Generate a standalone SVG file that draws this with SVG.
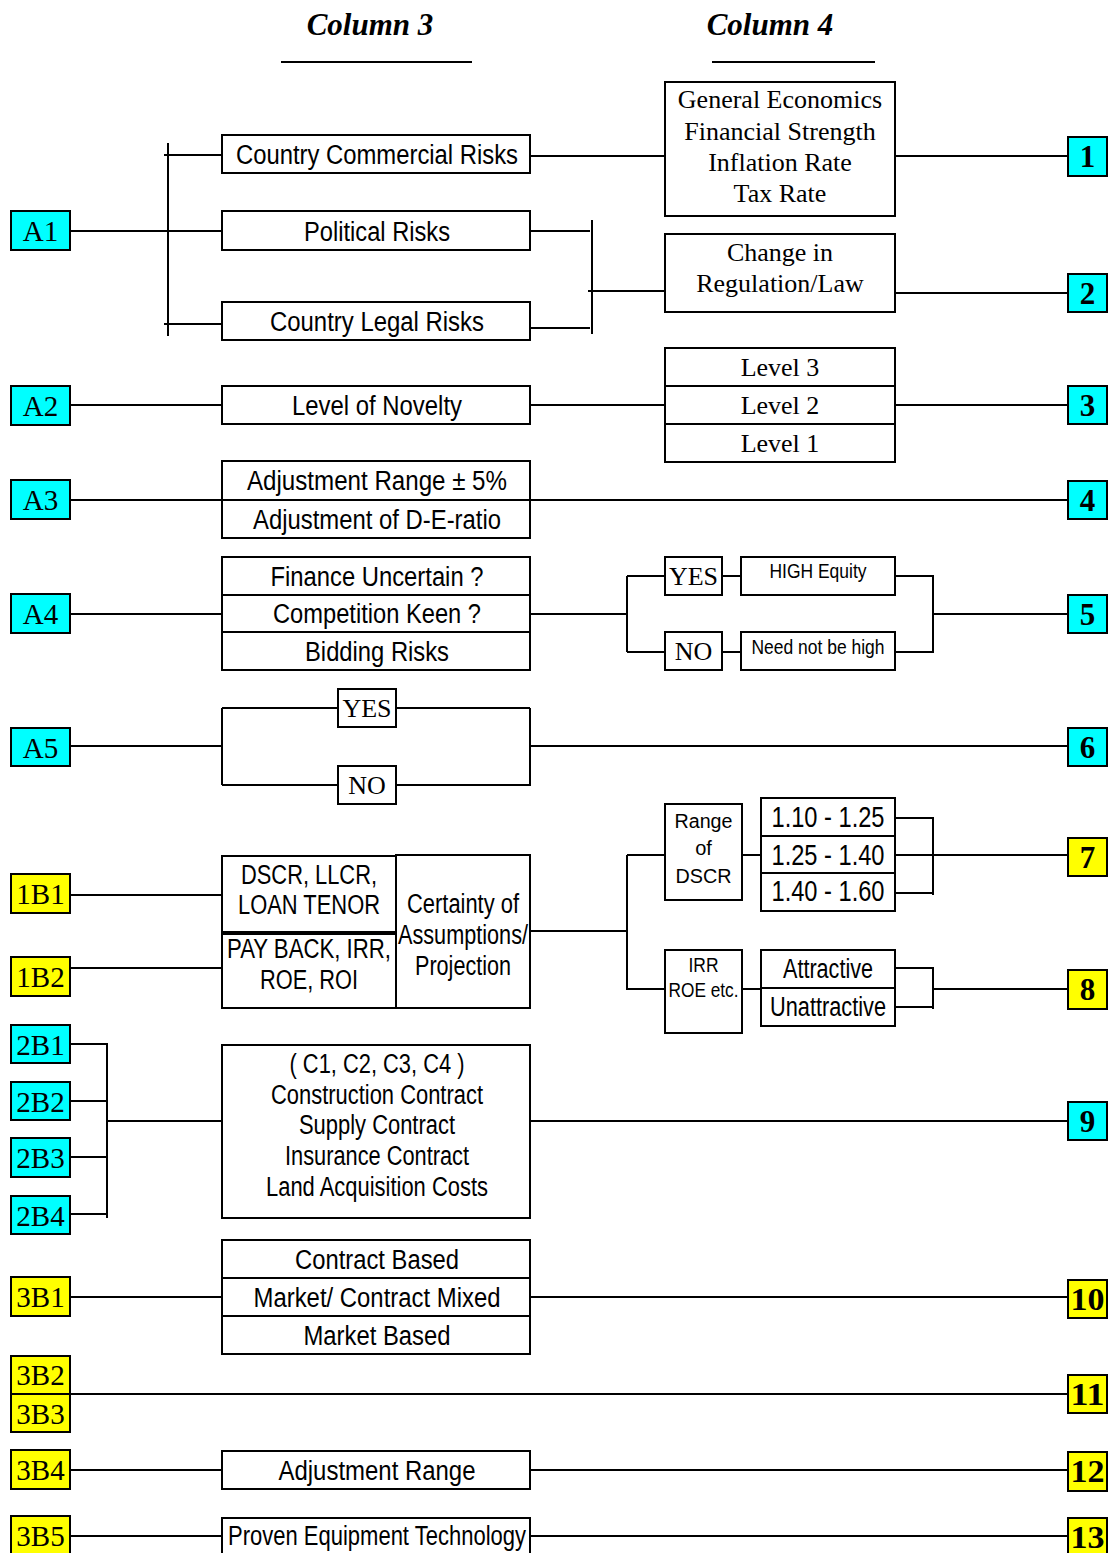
<svg xmlns="http://www.w3.org/2000/svg" width="1110" height="1553" viewBox="0 0 1110 1553">
<style>
.bx{fill:#fff;stroke:#000;stroke-width:2}
.cy{fill:#00ffff;stroke:#000;stroke-width:2}
.yl{fill:#ffff00;stroke:#000;stroke-width:2}
.ln{stroke:#000;stroke-width:2;fill:none}
.s{font-family:"Liberation Sans",Arial,sans-serif;font-size:27px;text-anchor:middle;fill:#000}
.sm{font-family:"Liberation Sans",Arial,sans-serif;font-size:20px;text-anchor:middle;fill:#000}
.r{font-family:"Liberation Serif","Times New Roman",serif;font-size:26px;text-anchor:middle;fill:#000}
.lb{font-family:"Liberation Serif","Times New Roman",serif;font-size:29px;text-anchor:middle;fill:#000}
.nb{font-family:"Liberation Serif","Times New Roman",serif;font-size:31px;font-weight:bold;text-anchor:middle;fill:#000}
.ti{font-family:"Liberation Serif","Times New Roman",serif;font-size:31px;font-weight:bold;font-style:italic;text-anchor:middle;fill:#000}
</style>

<g id="titles">
<text class="ti" x="370" y="35">Column 3</text>
<line class="ln" x1="281" y1="62" x2="472" y2="62"/>
<text class="ti" x="770" y="35">Column 4</text>
<line class="ln" x1="712" y1="62" x2="875" y2="62"/>
</g>

<g id="connectors">
<line class="ln" x1="70" y1="231" x2="222" y2="231"/>
<line class="ln" x1="168" y1="143" x2="168" y2="336"/>
<line class="ln" x1="164" y1="155" x2="222" y2="155"/>
<line class="ln" x1="164" y1="324" x2="222" y2="324"/>
<line class="ln" x1="530" y1="156" x2="665" y2="156"/>
<line class="ln" x1="895" y1="156" x2="1068" y2="156"/>
<line class="ln" x1="530" y1="231" x2="590" y2="231"/>
<line class="ln" x1="530" y1="328" x2="590" y2="328"/>
<line class="ln" x1="592" y1="220" x2="592" y2="334"/>
<line class="ln" x1="588" y1="291" x2="665" y2="291"/>
<line class="ln" x1="895" y1="293" x2="1068" y2="293"/>
<line class="ln" x1="70" y1="405" x2="222" y2="405"/>
<line class="ln" x1="530" y1="405" x2="665" y2="405"/>
<line class="ln" x1="895" y1="405" x2="1068" y2="405"/>
<line class="ln" x1="70" y1="500" x2="1068" y2="500"/>
<line class="ln" x1="70" y1="614" x2="222" y2="614"/>
<line class="ln" x1="530" y1="614" x2="627" y2="614"/>
<line class="ln" x1="627" y1="576" x2="627" y2="652"/>
<line class="ln" x1="627" y1="576" x2="665" y2="576"/>
<line class="ln" x1="627" y1="652" x2="665" y2="652"/>
<line class="ln" x1="722" y1="576" x2="741" y2="576"/>
<line class="ln" x1="722" y1="652" x2="741" y2="652"/>
<line class="ln" x1="895" y1="576" x2="933" y2="576"/>
<line class="ln" x1="895" y1="652" x2="933" y2="652"/>
<line class="ln" x1="933" y1="575" x2="933" y2="653"/>
<line class="ln" x1="933" y1="614" x2="1068" y2="614"/>
<line class="ln" x1="70" y1="746" x2="222" y2="746"/>
<line class="ln" x1="222" y1="708" x2="222" y2="785"/>
<line class="ln" x1="222" y1="708" x2="338" y2="708"/>
<line class="ln" x1="222" y1="785" x2="338" y2="785"/>
<line class="ln" x1="396" y1="708" x2="530" y2="708"/>
<line class="ln" x1="396" y1="785" x2="530" y2="785"/>
<line class="ln" x1="530" y1="708" x2="530" y2="786"/>
<line class="ln" x1="530" y1="746" x2="1068" y2="746"/>
<line class="ln" x1="70" y1="895" x2="222" y2="895"/>
<line class="ln" x1="70" y1="968" x2="222" y2="968"/>
<line class="ln" x1="530" y1="931" x2="627" y2="931"/>
<line class="ln" x1="627" y1="855" x2="627" y2="990"/>
<line class="ln" x1="627" y1="855" x2="665" y2="855"/>
<line class="ln" x1="627" y1="989" x2="665" y2="989"/>
<line class="ln" x1="742" y1="855" x2="761" y2="855"/>
<line class="ln" x1="742" y1="989" x2="761" y2="989"/>
<line class="ln" x1="895" y1="818" x2="933" y2="818"/>
<line class="ln" x1="895" y1="855" x2="933" y2="855"/>
<line class="ln" x1="895" y1="893" x2="933" y2="893"/>
<line class="ln" x1="933" y1="817" x2="933" y2="895"/>
<line class="ln" x1="933" y1="855" x2="1068" y2="855"/>
<line class="ln" x1="895" y1="968" x2="933" y2="968"/>
<line class="ln" x1="895" y1="1007" x2="933" y2="1007"/>
<line class="ln" x1="933" y1="967" x2="933" y2="1009"/>
<line class="ln" x1="933" y1="989" x2="1068" y2="989"/>
<line class="ln" x1="70" y1="1044" x2="107" y2="1044"/>
<line class="ln" x1="70" y1="1101" x2="107" y2="1101"/>
<line class="ln" x1="70" y1="1157" x2="107" y2="1157"/>
<line class="ln" x1="70" y1="1214" x2="107" y2="1214"/>
<line class="ln" x1="107" y1="1043" x2="107" y2="1218"/>
<line class="ln" x1="107" y1="1121" x2="222" y2="1121"/>
<line class="ln" x1="530" y1="1121" x2="1068" y2="1121"/>
<line class="ln" x1="70" y1="1297" x2="222" y2="1297"/>
<line class="ln" x1="530" y1="1297" x2="1068" y2="1297"/>
<line class="ln" x1="70" y1="1394" x2="1068" y2="1394"/>
<line class="ln" x1="70" y1="1470" x2="222" y2="1470"/>
<line class="ln" x1="530" y1="1470" x2="1068" y2="1470"/>
<line class="ln" x1="70" y1="1536" x2="222" y2="1536"/>
<line class="ln" x1="530" y1="1536" x2="1068" y2="1536"/>
</g>

<g id="A1"><rect class="cy" x="11" y="211" width="59" height="39"/><text class="lb" x="40.5" y="241">A1</text></g>
<g id="A2"><rect class="cy" x="11" y="386" width="59" height="39"/><text class="lb" x="40.5" y="416">A2</text></g>
<g id="A3"><rect class="cy" x="11" y="480" width="59" height="39"/><text class="lb" x="40.5" y="510">A3</text></g>
<g id="A4"><rect class="cy" x="11" y="594" width="59" height="39"/><text class="lb" x="40.5" y="624">A4</text></g>
<g id="A5"><rect class="cy" x="11" y="728" width="59" height="38"/><text class="lb" x="40.5" y="758">A5</text></g>
<g id="n1B1"><rect class="yl" x="11" y="874" width="59" height="39"/><text class="lb" x="40.5" y="904">1B1</text></g>
<g id="n1B2"><rect class="yl" x="11" y="957" width="59" height="39"/><text class="lb" x="40.5" y="987">1B2</text></g>
<g id="n2B1"><rect class="cy" x="11" y="1025" width="59" height="38"/><text class="lb" x="40.5" y="1055">2B1</text></g>
<g id="n2B2"><rect class="cy" x="11" y="1082" width="59" height="38"/><text class="lb" x="40.5" y="1112">2B2</text></g>
<g id="n2B3"><rect class="cy" x="11" y="1138" width="59" height="39"/><text class="lb" x="40.5" y="1168">2B3</text></g>
<g id="n2B4"><rect class="cy" x="11" y="1196" width="59" height="38"/><text class="lb" x="40.5" y="1226">2B4</text></g>
<g id="n3B1"><rect class="yl" x="11" y="1277" width="59" height="39"/><text class="lb" x="40.5" y="1307">3B1</text></g>
<g id="n3B2"><rect class="yl" x="11" y="1356" width="59" height="38"/><text class="lb" x="40.5" y="1385">3B2</text></g>
<g id="n3B3"><rect class="yl" x="11" y="1394" width="59" height="38"/><text class="lb" x="40.5" y="1424">3B3</text></g>
<g id="n3B4"><rect class="yl" x="11" y="1450" width="59" height="39"/><text class="lb" x="40.5" y="1480">3B4</text></g>
<g id="n3B5"><rect class="yl" x="11" y="1516" width="59" height="39"/><text class="lb" x="40.5" y="1546">3B5</text></g>

<g id="r1"><rect class="cy" x="1068" y="137" width="39" height="39"/><text class="nb" x="1087.5" y="167">1</text></g>
<g id="r2"><rect class="cy" x="1068" y="274" width="39" height="38"/><text class="nb" x="1087.5" y="304">2</text></g>
<g id="r3"><rect class="cy" x="1068" y="386" width="39" height="38"/><text class="nb" x="1087.5" y="416">3</text></g>
<g id="r4"><rect class="cy" x="1068" y="481" width="39" height="38"/><text class="nb" x="1087.5" y="511">4</text></g>
<g id="r5"><rect class="cy" x="1068" y="595" width="39" height="38"/><text class="nb" x="1087.5" y="625">5</text></g>
<g id="r6"><rect class="cy" x="1068" y="728" width="39" height="38"/><text class="nb" x="1087.5" y="758">6</text></g>
<g id="r7"><rect class="yl" x="1068" y="838" width="39" height="38"/><text class="nb" x="1087.5" y="868">7</text></g>
<g id="r8"><rect class="yl" x="1068" y="970" width="39" height="39"/><text class="nb" x="1087.5" y="1000">8</text></g>
<g id="r9"><rect class="cy" x="1068" y="1102" width="39" height="38"/><text class="nb" x="1087.5" y="1132">9</text></g>
<g id="r10"><rect class="yl" x="1068" y="1280" width="39" height="38"/><text class="nb" x="1087.5" y="1310" textLength="34" lengthAdjust="spacingAndGlyphs">10</text></g>
<g id="r11"><rect class="yl" x="1068" y="1375" width="39" height="38"/><text class="nb" x="1087.5" y="1405" textLength="34" lengthAdjust="spacingAndGlyphs">11</text></g>
<g id="r12"><rect class="yl" x="1068" y="1452" width="39" height="39"/><text class="nb" x="1087.5" y="1482" textLength="34" lengthAdjust="spacingAndGlyphs">12</text></g>
<g id="r13"><rect class="yl" x="1068" y="1518" width="39" height="38"/><text class="nb" x="1087.5" y="1548" textLength="34" lengthAdjust="spacingAndGlyphs">13</text></g>

<g id="ccr"><rect class="bx" x="222" y="135" width="308" height="38"/><text class="s" x="377" y="164" textLength="282" lengthAdjust="spacingAndGlyphs">Country Commercial Risks</text></g>
<g id="pol"><rect class="bx" x="222" y="211" width="308" height="39"/><text class="s" x="377" y="241" textLength="146" lengthAdjust="spacingAndGlyphs">Political Risks</text></g>
<g id="clr"><rect class="bx" x="222" y="302" width="308" height="38"/><text class="s" x="377" y="331" textLength="214" lengthAdjust="spacingAndGlyphs">Country Legal Risks</text></g>
<g id="nov"><rect class="bx" x="222" y="386" width="308" height="38"/><text class="s" x="377" y="415" textLength="170" lengthAdjust="spacingAndGlyphs">Level of Novelty</text></g>
<g id="adj">
<rect class="bx" x="222" y="461" width="308" height="77"/>
<line class="ln" x1="222" y1="500" x2="530" y2="500"/>
<text class="s" x="377" y="490" textLength="260" lengthAdjust="spacingAndGlyphs">Adjustment Range ± 5%</text>
<text class="s" x="377" y="529" textLength="248" lengthAdjust="spacingAndGlyphs">Adjustment of D-E-ratio</text>
</g>
<g id="bid">
<rect class="bx" x="222" y="557" width="308" height="113"/>
<line class="ln" x1="222" y1="595" x2="530" y2="595"/>
<line class="ln" x1="222" y1="632" x2="530" y2="632"/>
<text class="s" x="377" y="586" textLength="213" lengthAdjust="spacingAndGlyphs">Finance Uncertain ?</text>
<text class="s" x="377" y="623" textLength="208" lengthAdjust="spacingAndGlyphs">Competition Keen ?</text>
<text class="s" x="377" y="661" textLength="144" lengthAdjust="spacingAndGlyphs">Bidding Risks</text>
</g>
<g id="a5yes"><rect class="bx" x="338" y="689" width="58" height="38"/><text class="r" x="367" y="717">YES</text></g>
<g id="a5no"><rect class="bx" x="338" y="766" width="58" height="38"/><text class="r" x="367" y="794">NO</text></g>
<g id="dscr"><rect class="bx" x="222" y="856" width="174" height="76"/>
<text class="s" x="309" y="884" textLength="136" lengthAdjust="spacingAndGlyphs">DSCR, LLCR,</text>
<text class="s" x="309" y="914" textLength="142" lengthAdjust="spacingAndGlyphs">LOAN TENOR</text></g>
<g id="payb"><rect class="bx" x="222" y="934" width="174" height="74"/>
<text class="s" x="309" y="958" textLength="164" lengthAdjust="spacingAndGlyphs">PAY BACK, IRR,</text>
<text class="s" x="309" y="989" textLength="98" lengthAdjust="spacingAndGlyphs">ROE, ROI</text></g>
<g id="cert"><rect class="bx" x="396" y="855" width="134" height="153"/>
<text class="s" x="463" y="913" textLength="112" lengthAdjust="spacingAndGlyphs">Certainty of</text>
<text class="s" x="463" y="944" textLength="130" lengthAdjust="spacingAndGlyphs">Assumptions/</text>
<text class="s" x="463" y="975" textLength="96" lengthAdjust="spacingAndGlyphs">Projection</text></g>
<g id="contracts"><rect class="bx" x="222" y="1045" width="308" height="173"/>
<text class="s" x="377" y="1073" textLength="175" lengthAdjust="spacingAndGlyphs">( C1, C2, C3, C4 )</text>
<text class="s" x="377" y="1104" textLength="212" lengthAdjust="spacingAndGlyphs">Construction Contract</text>
<text class="s" x="377" y="1134" textLength="156" lengthAdjust="spacingAndGlyphs">Supply Contract</text>
<text class="s" x="377" y="1165" textLength="184" lengthAdjust="spacingAndGlyphs">Insurance Contract</text>
<text class="s" x="377" y="1196" textLength="222" lengthAdjust="spacingAndGlyphs">Land Acquisition Costs</text></g>
<g id="market"><rect class="bx" x="222" y="1240" width="308" height="114"/>
<line class="ln" x1="222" y1="1278" x2="530" y2="1278"/>
<line class="ln" x1="222" y1="1316" x2="530" y2="1316"/>
<text class="s" x="377" y="1269" textLength="164" lengthAdjust="spacingAndGlyphs">Contract Based</text>
<text class="s" x="377" y="1307" textLength="247" lengthAdjust="spacingAndGlyphs">Market/ Contract Mixed</text>
<text class="s" x="377" y="1345" textLength="147" lengthAdjust="spacingAndGlyphs">Market Based</text></g>
<g id="adjr"><rect class="bx" x="222" y="1451" width="308" height="38"/><text class="s" x="377" y="1480" textLength="197" lengthAdjust="spacingAndGlyphs">Adjustment Range</text></g>
<g id="proven"><rect class="bx" x="222" y="1518" width="308" height="38"/><text class="s" x="377" y="1545" textLength="298" lengthAdjust="spacingAndGlyphs">Proven Equipment Technology</text></g>

<g id="econ"><rect class="bx" x="665" y="82" width="230" height="134"/>
<text class="r" x="780" y="108">General Economics</text>
<text class="r" x="780" y="140">Financial Strength</text>
<text class="r" x="780" y="171">Inflation Rate</text>
<text class="r" x="780" y="202">Tax Rate</text></g>
<g id="reg"><rect class="bx" x="665" y="234" width="230" height="78"/>
<text class="r" x="780" y="261">Change in</text>
<text class="r" x="780" y="292">Regulation/Law</text></g>
<g id="levels"><rect class="bx" x="665" y="348" width="230" height="114"/>
<line class="ln" x1="665" y1="386" x2="895" y2="386"/>
<line class="ln" x1="665" y1="424" x2="895" y2="424"/>
<text class="r" x="780" y="376">Level 3</text>
<text class="r" x="780" y="414">Level 2</text>
<text class="r" x="780" y="452">Level 1</text></g>
<g id="yes4"><rect class="bx" x="665" y="557" width="57" height="38"/><text class="r" x="693.5" y="585">YES</text></g>
<g id="no4"><rect class="bx" x="665" y="632" width="57" height="38"/><text class="r" x="693.5" y="660">NO</text></g>
<g id="high"><rect class="bx" x="741" y="557" width="154" height="38"/><text class="sm" x="818" y="578" textLength="97" lengthAdjust="spacingAndGlyphs">HIGH Equity</text></g>
<g id="nnbh"><rect class="bx" x="741" y="632" width="154" height="38"/><text class="sm" x="818" y="654" textLength="133" lengthAdjust="spacingAndGlyphs">Need not be high</text></g>
<g id="rdscr"><rect class="bx" x="665" y="804" width="77" height="96"/>
<text class="sm" x="703.5" y="828" textLength="58" lengthAdjust="spacingAndGlyphs">Range</text>
<text class="sm" x="703.5" y="855">of</text>
<text class="sm" x="703.5" y="883" textLength="56" lengthAdjust="spacingAndGlyphs">DSCR</text></g>
<g id="dvals"><rect class="bx" x="761" y="798" width="134" height="113"/>
<line class="ln" x1="761" y1="836" x2="895" y2="836"/>
<line class="ln" x1="761" y1="873" x2="895" y2="873"/>
<text class="s" x="828" y="827" style="font-size:29px" textLength="113" lengthAdjust="spacingAndGlyphs">1.10 - 1.25</text>
<text class="s" x="828" y="865" style="font-size:29px" textLength="113" lengthAdjust="spacingAndGlyphs">1.25 - 1.40</text>
<text class="s" x="828" y="901" style="font-size:29px" textLength="113" lengthAdjust="spacingAndGlyphs">1.40 - 1.60</text></g>
<g id="irr"><rect class="bx" x="665" y="950" width="77" height="83"/>
<text class="sm" x="703.5" y="972" textLength="30" lengthAdjust="spacingAndGlyphs">IRR</text>
<text class="sm" x="703.5" y="997" textLength="70" lengthAdjust="spacingAndGlyphs">ROE etc.</text></g>
<g id="attr"><rect class="bx" x="761" y="950" width="134" height="76"/>
<line class="ln" x1="761" y1="988" x2="895" y2="988"/>
<text class="s" x="828" y="978" textLength="90" lengthAdjust="spacingAndGlyphs">Attractive</text>
<text class="s" x="828" y="1016" textLength="116" lengthAdjust="spacingAndGlyphs">Unattractive</text></g>
</svg>
